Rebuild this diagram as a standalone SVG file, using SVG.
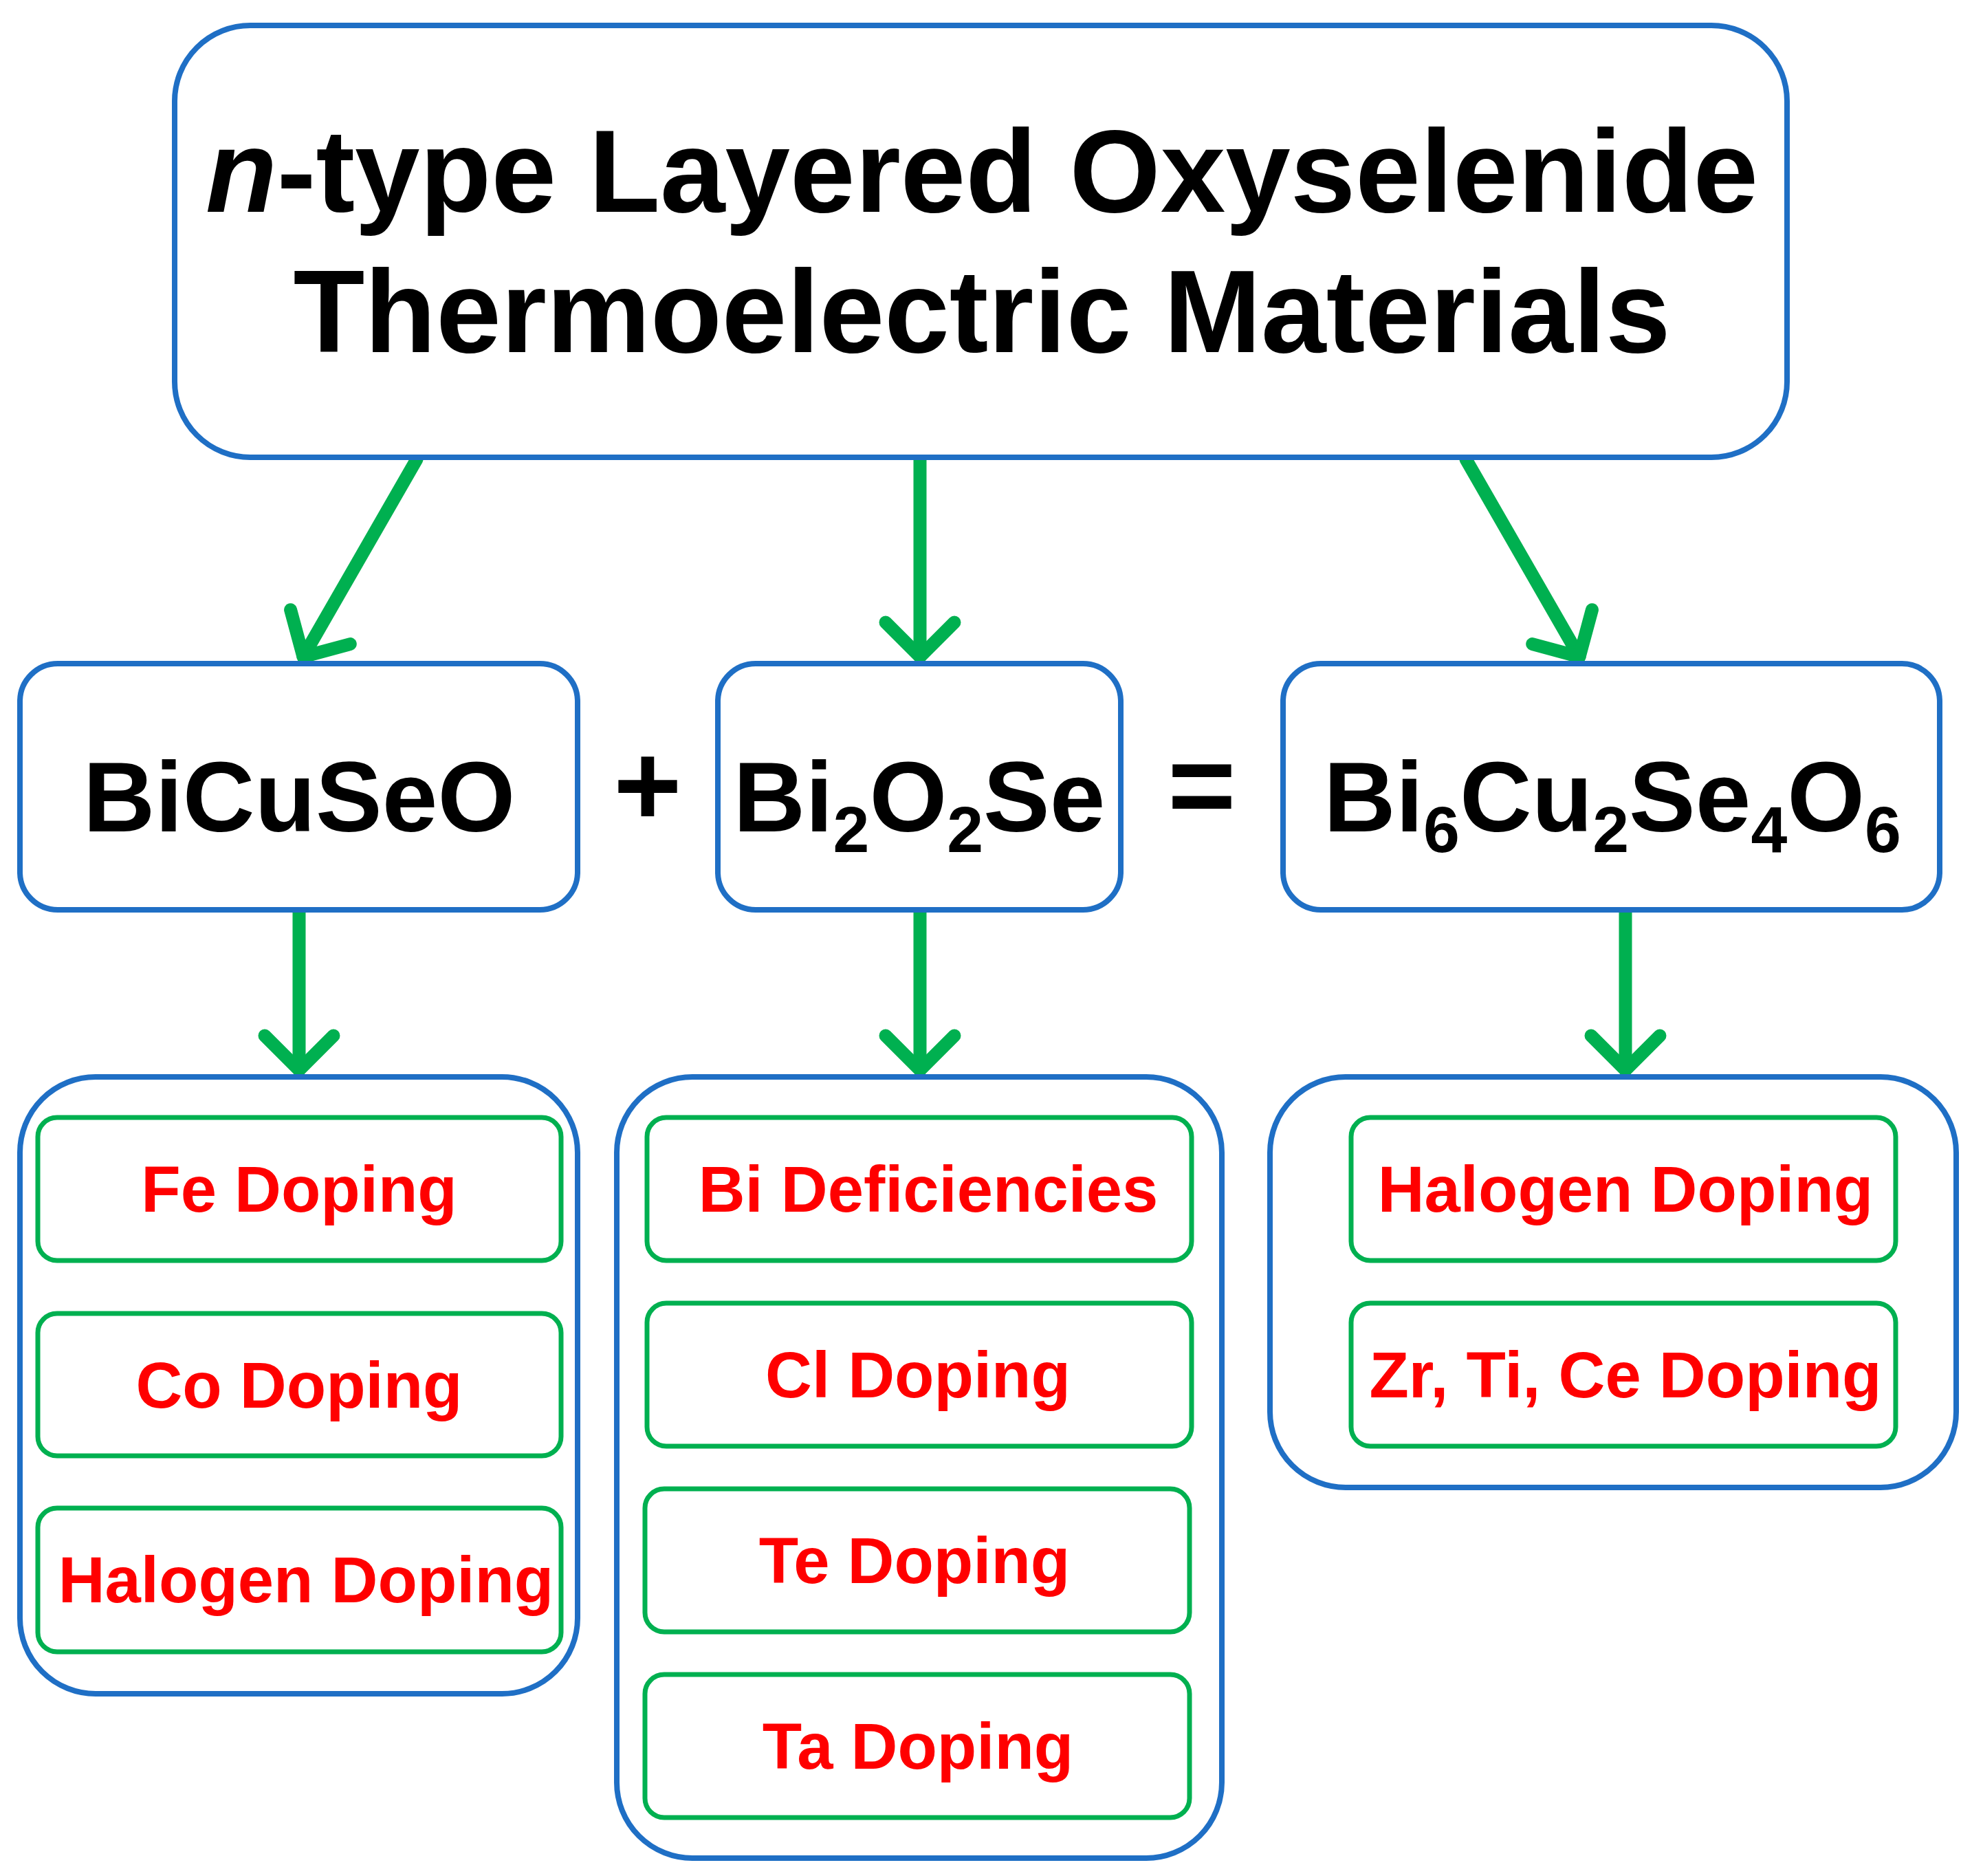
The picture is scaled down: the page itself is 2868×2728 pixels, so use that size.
<svg xmlns="http://www.w3.org/2000/svg" width="2868" height="2728" viewBox="0 0 2868 2728">
<style>
.b{fill:#fff;stroke:#1F6FC5;stroke-width:8}
.g{fill:#fff;stroke:#00B050;stroke-width:7}
.t{font-family:"Liberation Sans",Arial,sans-serif;font-weight:bold;fill:#000;text-anchor:middle}
.r{font-family:"Liberation Sans",Arial,sans-serif;font-weight:bold;fill:#FF0000;text-anchor:middle;font-size:94px}
.c{stroke:#00B050;stroke-width:19;fill:none;stroke-linecap:round}
</style>
<defs>
<marker id="ah" markerUnits="userSpaceOnUse" markerWidth="140" markerHeight="140" refX="70" refY="70" orient="auto" viewBox="0 0 140 140">
<path d="M20 20 L70 70 L20 120" fill="none" stroke="#00B050" stroke-width="19" stroke-linecap="round" stroke-linejoin="round"/>
</marker>
</defs>
<rect width="2868" height="2728" fill="#fff"/>
<g id="connectors">
<line class="c" x1="606" y1="668" x2="441" y2="955" marker-end="url(#ah)"/>
<line class="c" x1="1338" y1="668" x2="1338" y2="955" marker-end="url(#ah)"/>
<line class="c" x1="2132" y1="668" x2="2297" y2="955" marker-end="url(#ah)"/>
<line class="c" x1="435" y1="1326" x2="435" y2="1556" marker-end="url(#ah)"/>
<line class="c" x1="1338" y1="1326" x2="1338" y2="1556" marker-end="url(#ah)"/>
<line class="c" x1="2364" y1="1326" x2="2364" y2="1556" marker-end="url(#ah)"/>
</g>
<g id="title">
<rect class="b" x="254" y="37" width="2345" height="628" rx="110"/>
<text class="t" x="1428" y="308" font-size="170"><tspan font-style="italic">n</tspan>-type Layered Oxyselenide</text>
<text class="t" x="1428" y="512" font-size="170">Thermoelectric Materials</text>
</g>
<g id="bicuseo">
<rect class="b" x="29" y="965" width="811" height="358" rx="55"/>
<text class="t" x="435" y="1209" font-size="145">BiCuSeO</text>
</g>
<text class="t" x="942" y="1200" font-size="170">+</text>
<g id="bi2o2se">
<rect class="b" x="1044" y="965" width="586" height="358" rx="55"/>
<text class="t" x="1337" y="1209" font-size="145">Bi<tspan font-size="95" dy="30">2</tspan><tspan dy="-30">O</tspan><tspan font-size="95" dy="30">2</tspan><tspan dy="-30">Se</tspan></text>
</g>
<text class="t" x="1748" y="1200" font-size="170">=</text>
<g id="bi6cu2se4o6">
<rect class="b" x="1866" y="965" width="955" height="358" rx="55"/>
<text class="t" x="2345" y="1209" font-size="145">Bi<tspan font-size="95" dy="30">6</tspan><tspan dy="-30">Cu</tspan><tspan font-size="95" dy="30">2</tspan><tspan dy="-30">Se</tspan><tspan font-size="95" dy="30">4</tspan><tspan dy="-30">O</tspan><tspan font-size="95" dy="30">6</tspan></text>
</g>
<g id="left-group">
<rect class="b" x="29" y="1566" width="811" height="897" rx="110"/>
<rect class="g" x="55" y="1625" width="761" height="208" rx="28"/>
<text class="r" x="435" y="1762">Fe Doping</text>
<rect class="g" x="55" y="1910" width="761" height="207" rx="28"/>
<text class="r" x="435" y="2047">Co Doping</text>
<rect class="g" x="55" y="2193" width="761" height="209" rx="28"/>
<text class="r" x="445" y="2330">Halogen Doping</text>
</g>
<g id="middle-group">
<rect class="b" x="897" y="1566" width="880" height="1136" rx="110"/>
<rect class="g" x="941" y="1625" width="792" height="208" rx="28"/>
<text class="r" x="1350" y="1762">Bi Deficiencies</text>
<rect class="g" x="941" y="1895" width="792" height="208" rx="28"/>
<text class="r" x="1335" y="2032">Cl Doping</text>
<rect class="g" x="938" y="2165" width="792" height="208" rx="28"/>
<text class="r" x="1330" y="2302">Te Doping</text>
<rect class="g" x="938" y="2435" width="792" height="208" rx="28"/>
<text class="r" x="1335" y="2572">Ta Doping</text>
</g>
<g id="right-group">
<rect class="b" x="1847" y="1566" width="998" height="597" rx="110"/>
<rect class="g" x="1965" y="1625" width="792" height="208" rx="28"/>
<text class="r" x="2364" y="1762">Halogen Doping</text>
<rect class="g" x="1965" y="1895" width="792" height="208" rx="28"/>
<text class="r" x="2364" y="2032">Zr, Ti, Ce Doping</text>
</g>
</svg>
